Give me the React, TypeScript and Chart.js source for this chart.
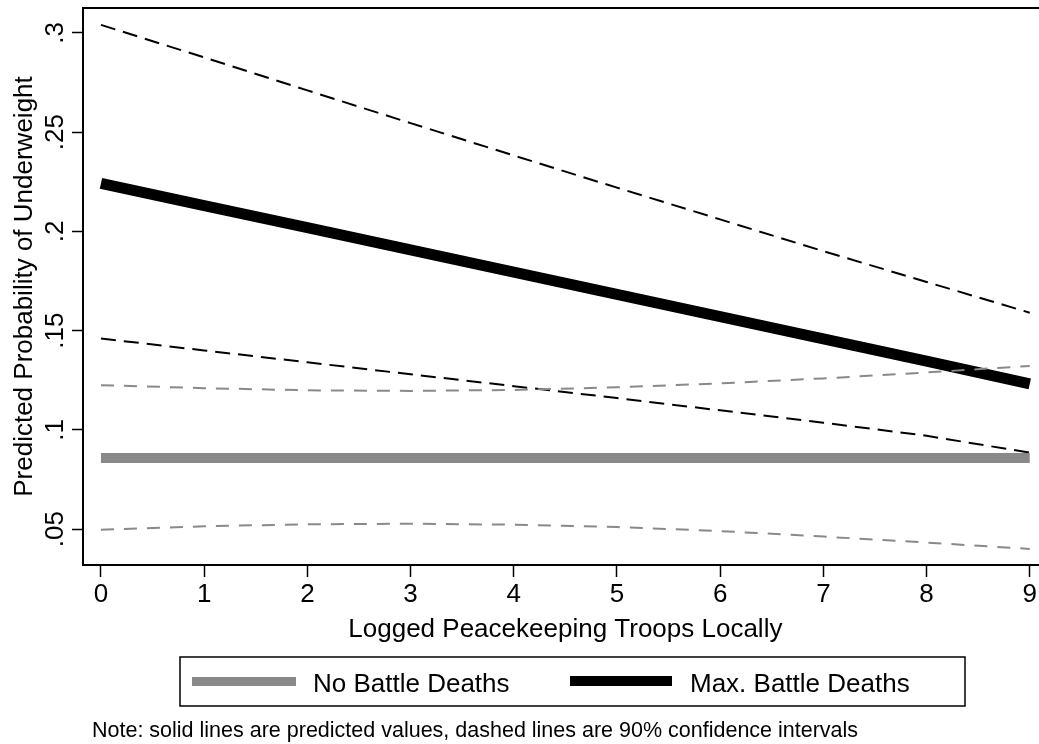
import React, { useEffect, useRef } from 'react';
import { Chart, registerables } from 'chart.js';

Chart.register(...registerables);

// ---- data ----
const troops = [0, 1, 2, 3, 4, 5, 6, 7, 8, 9];
const noDeathsPred = [0.0858, 0.0858, 0.0858, 0.0858, 0.0858, 0.0858, 0.0858, 0.0858, 0.0858, 0.0858];
const noDeathsUpper = [0.1225, 0.1210, 0.1199, 0.1196, 0.1201, 0.1214, 0.1234, 0.1259, 0.1289, 0.1322];
const noDeathsLower = [0.0497, 0.0514, 0.0524, 0.0527, 0.0522, 0.0510, 0.0490, 0.0462, 0.0432, 0.0400];
const maxDeathsPred = [0.2242, 0.2130, 0.2018, 0.1906, 0.1794, 0.1682, 0.1570, 0.1458, 0.1346, 0.1231];
const maxDeathsUpper = [0.3040, 0.2876, 0.2710, 0.2545, 0.2382, 0.2220, 0.2060, 0.1900, 0.1745, 0.1590];
const maxDeathsLower = [0.1460, 0.1400, 0.1340, 0.1280, 0.1220, 0.1160, 0.1098, 0.1036, 0.0970, 0.0885];

const xTicks = [0, 1, 2, 3, 4, 5, 6, 7, 8, 9];
const yTicks = [0.05, 0.1, 0.15, 0.2, 0.25, 0.3];
const yTickLabels = ['.05', '.1', '.15', '.2', '.25', '.3'];
const legendLabels = ['No Battle Deaths', 'Max. Battle Deaths'];
const xTitle = 'Logged Peacekeeping Troops Locally';
const yTitle = 'Predicted Probability of Underweight';
const noteText = 'Note: solid lines are predicted values, dashed lines are 90% confidence intervals';

const FONT = '"Liberation Sans", Arial, Helvetica, sans-serif';
const GREY = '#898989';
const W = 1039;
const H = 744;

const toPts = (ys: number[]) => troops.map((x, i) => ({ x, y: ys[i] }));

const decorPlugin = {
  id: 'decor',
  afterDraw(chart: any) {
    const ctx = chart.ctx as CanvasRenderingContext2D;
    const area = chart.chartArea;
    const ys = chart.scales.y;
    const xs = chart.scales.x;
    ctx.save();
    // top frame line
    ctx.strokeStyle = '#000';
    ctx.lineWidth = 2;
    ctx.beginPath();
    ctx.moveTo(area.left - 1, area.top);
    ctx.lineTo(W, area.top);
    ctx.stroke();

    ctx.fillStyle = '#000';
    // y tick labels (rotated)
    ctx.font = `26px ${FONT}`;
    ctx.textAlign = 'center';
    ctx.textBaseline = 'alphabetic';
    yTicks.forEach((v, i) => {
      const py = ys.getPixelForValue(v);
      ctx.save();
      ctx.translate(63, py);
      ctx.rotate(-Math.PI / 2);
      ctx.fillText(yTickLabels[i], 0, 0);
      ctx.restore();
    });
    // y title
    ctx.font = `26px ${FONT}`;
    ctx.save();
    ctx.translate(32, (area.top + area.bottom) / 2);
    ctx.rotate(-Math.PI / 2);
    ctx.fillText(yTitle, 0, 0);
    ctx.restore();
    // x title
    const xc = (xs.getPixelForValue(0) + xs.getPixelForValue(9)) / 2;
    ctx.fillText(xTitle, xc, 637);

    // legend box
    ctx.lineWidth = 1.5;
    ctx.strokeRect(180, 657, 785, 49);
    ctx.fillStyle = GREY;
    ctx.fillRect(192, 677, 104, 9);
    ctx.fillStyle = '#000';
    ctx.fillRect(570, 676, 102, 10);
    ctx.textAlign = 'left';
    ctx.fillText(legendLabels[0], 313, 692);
    ctx.fillText(legendLabels[1], 690, 692);

    // note
    ctx.font = `21.5px ${FONT}`;
    ctx.fillText(noteText, 92, 737);
    ctx.restore();
  },
};

export default function App() {
  const ref = useRef<HTMLCanvasElement | null>(null);
  useEffect(() => {
    if (!ref.current) return;
    const dashedBlack = { borderColor: '#000', borderWidth: 2, borderDash: [15, 8], pointRadius: 0, fill: false };
    const dashedGrey = { borderColor: GREY, borderWidth: 2, borderDash: [13, 10], pointRadius: 0, fill: false };
    const chart = new Chart(ref.current, {
      type: 'line',
      data: {
        datasets: [
          { label: 'No Battle Deaths upper', data: toPts(noDeathsUpper), ...dashedGrey },
          { label: 'No Battle Deaths lower', data: toPts(noDeathsLower), ...dashedGrey },
          { label: legendLabels[0], data: toPts(noDeathsPred), borderColor: GREY, borderWidth: 10, pointRadius: 0, borderCapStyle: 'butt' },
          { label: 'Max upper', data: toPts(maxDeathsUpper), ...dashedBlack },
          { label: 'Max lower', data: toPts(maxDeathsLower), ...dashedBlack },
          { label: legendLabels[1], data: toPts(maxDeathsPred), borderColor: '#000', borderWidth: 11, pointRadius: 0, borderCapStyle: 'butt' },
        ] as any,
      },
      options: {
        responsive: false,
        animation: false,
        layout: { padding: { top: 8, left: 0, right: 0, bottom: 0 } },
        plugins: { legend: { display: false }, tooltip: { enabled: false } },
        elements: { line: { tension: 0 } },
        scales: {
          x: {
            type: 'linear',
            min: -0.174,
            max: 9.087,
            afterBuildTicks: (s: any) => { s.ticks = xTicks.map((v) => ({ value: v })); },
            afterFit: (s: any) => { s.height = H - 565; },
            ticks: {
              font: { size: 26, family: FONT },
              color: '#000',
              padding: 2,
              maxRotation: 0,
              autoSkip: false,
              callback: (v: any) => String(v),
            },
            grid: { drawOnChartArea: false, drawTicks: true, tickLength: 12, tickWidth: 1.5, tickColor: '#000' },
            border: { display: true, color: '#000', width: 2 },
          },
          y: {
            type: 'linear',
            min: 0.0319,
            max: 0.3125,
            afterBuildTicks: (s: any) => { s.ticks = yTicks.map((v) => ({ value: v })); },
            afterFit: (s: any) => { s.width = 83; },
            ticks: { display: false },
            grid: { drawOnChartArea: false, drawTicks: true, tickLength: 11, tickWidth: 1.5, tickColor: '#000' },
            border: { display: true, color: '#000', width: 2 },
          },
        },
      } as any,
      plugins: [decorPlugin],
    });
    return () => chart.destroy();
  }, []);
  return (
    <div style={{ position: 'fixed', left: 0, top: 0, width: W, height: H, background: '#fff' }}>
      <canvas ref={ref} width={W} height={H} style={{ width: W, height: H, display: 'block' }} />
    </div>
  );
}
